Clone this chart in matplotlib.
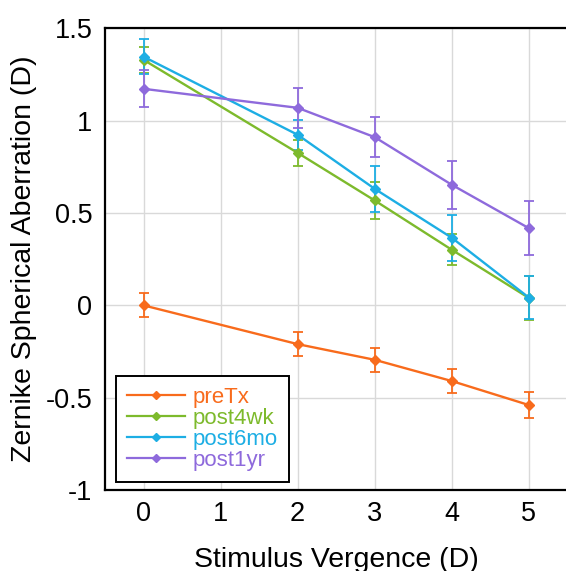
import numpy as np
import matplotlib
matplotlib.use("Agg")
import matplotlib.pyplot as plt
from matplotlib.lines import Line2D

plt.rcParams['font.family'] = ['Liberation Sans', 'DejaVu Sans']

vergence = [0, 2, 3, 4, 5]
series_names = ['preTx', 'post4wk', 'post6mo', 'post1yr']
colors = ['#F86B1C', '#7DBA2C', '#1DAEE4', '#8E6ADC']

pre_tx = [0.0, -0.21, -0.295, -0.41, -0.54]
pre_tx_err = [0.065, 0.063, 0.065, 0.063, 0.072]
post_4wk = [1.33, 0.826, 0.568, 0.301, 0.04]
post_4wk_err = [0.07, 0.07, 0.10, 0.085, 0.12]
post_6mo = [1.347, 0.924, 0.631, 0.366, 0.042]
post_6mo_err = [0.095, 0.08, 0.125, 0.126, 0.118]
post_1yr = [1.173, 1.07, 0.911, 0.653, 0.418]
post_1yr_err = [0.10, 0.11, 0.11, 0.13, 0.145]

means = [pre_tx, post_4wk, post_6mo, post_1yr]
errs = [pre_tx_err, post_4wk_err, post_6mo_err, post_1yr_err]

fig = plt.figure(figsize=(5.66, 5.71), dpi=100)
ax = fig.add_axes([0.1855, 0.1419, 0.817, 0.8083])

handles = []
for name, m, e, c in zip(series_names, means, errs, colors):
    ax.errorbar(vergence, m, yerr=e, color=c, lw=1.7, marker='D', ms=5,
                capsize=3.5, elinewidth=1.3, capthick=1.3)
    handles.append(Line2D([], [], color=c, lw=1.6, marker='D', ms=4, label=name))

ax.set_xlim(-0.5, 5.5)
ax.set_ylim(-1, 1.5)
ax.set_xticks([0, 1, 2, 3, 4, 5])
ax.set_yticks([-1, -0.5, 0, 0.5, 1, 1.5])
ax.set_yticklabels(['-1', '-0.5', '0', '0.5', '1', '1.5'])
ax.tick_params(labelsize=19.5, length=0)
ax.tick_params(axis='x', pad=8)
ax.tick_params(axis='y', pad=9)
ax.grid(True, color='#d9d9d9', lw=1.0)
ax.set_axisbelow(True)
for s in ax.spines.values():
    s.set_linewidth(1.6)
    s.set_color('black')

ax.set_xlabel('Stimulus Vergence (D)', fontsize=20.5, labelpad=14)
ax.set_ylabel('Zernike Spherical Aberration (D)', fontsize=20.5, labelpad=6.5)

leg = ax.legend(handles=handles, loc='lower left', bbox_to_anchor=(0.024, 0.017),
                borderaxespad=0, fontsize=16, handlelength=2.6, handletextpad=0.35,
                labelspacing=0.0, borderpad=0.5, fancybox=False,
                framealpha=1, edgecolor='black')
leg.get_frame().set_linewidth(1.4)
for txt, c in zip(leg.get_texts(), colors):
    txt.set_color(c)

fig.savefig('out.png', dpi=100)
